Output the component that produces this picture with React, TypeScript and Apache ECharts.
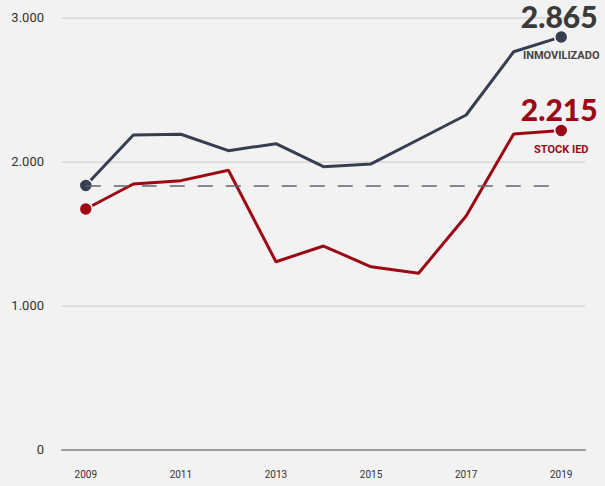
import React, { useEffect, useRef } from "react";
import * as echarts from "echarts";

const years = ["2009", "2010", "2011", "2012", "2013", "2014", "2015", "2016", "2017", "2018", "2019"];
const inmovilizado = [1833, 2184, 2189, 2075, 2124, 1964, 1983, 2153, 2323, 2762, 2865];
const stockIED = [1670, 1844, 1867, 1939, 1304, 1413, 1269, 1224, 1622, 2191, 2215];
const seriesNames = ["INMOVILIZADO", "STOCK IED"];
const yTicks = [0, 1000, 2000, 3000];

const NAVY = "#363f4f";
const RED = "#9b0a14";

const fmt = (v: number) => String(Math.round(v)).replace(/\B(?=(\d{3})+(?!\d))/g, ".");

function buildSeries(name: string, values: number[], color: string, valueColor: string, withRef: boolean) {
  const last = values.length - 1;
  const data = values.map((v, i) =>
    i === last
      ? {
          value: v,
          label: {
            show: true,
            position: "top",
            distance: 1,
            offset: [-2, 0],
            lineHeight: 26,
            formatter: () => fmt(v),
            fontFamily: "Lato",
            fontWeight: 900,
            fontSize: 30,
            color: valueColor,
          },
        }
      : v
  );
  const s: any = {
    type: "line",
    name,
    data,
    showAllSymbol: true,
    symbol: "circle",
    symbolSize: (_v: any, p: any) => (p.dataIndex === 0 || p.dataIndex === last ? 13 : 0),
    lineStyle: { color, width: 3 },
    itemStyle: { color, borderColor: "#f4f4f4", borderWidth: 1.5 },
    emphasis: { disabled: true },
    markPoint: {
      symbol: "circle",
      symbolSize: 13,
      itemStyle: { color: "rgba(0,0,0,0)" },
      label: {
        show: true,
        position: "bottom",
        distance: 7,
        formatter: name,
        fontFamily: "Roboto",
        fontWeight: 700,
        fontSize: 11,
        color: color === NAVY ? "#444444" : RED,
      },
      data: [{ coord: [years[last], values[last]] }],
    },
  };
  if (withRef) {
    s.markLine = {
      silent: true,
      symbol: "none",
      label: { show: false },
      lineStyle: { color: "#5d6470", width: 1.5, type: [15, 13] },
      data: [[{ coord: [years[0], values[0]] }, { coord: [years[last], values[0]] }]],
    };
  }
  return s;
}

export default function App() {
  const ref = useRef<HTMLDivElement>(null);
  useEffect(() => {
    document.body.style.margin = "0";
    const chart = echarts.init(ref.current!, undefined, { renderer: "svg" });
    chart.setOption({
      animation: false,
      backgroundColor: "#f2f2f2",
      grid: { left: 62, right: 20, top: 17.5, bottom: 36.5 },
      xAxis: {
        type: "category",
        data: years,
        boundaryGap: true,
        axisLine: { show: true, lineStyle: { color: "#9a9a9a", width: 2 } },
        axisTick: { show: false },
        axisLabel: { interval: 1, margin: 20, fontFamily: "Roboto", fontSize: 10, color: "#333" },
      },
      yAxis: {
        type: "value",
        min: yTicks[0],
        max: yTicks[yTicks.length - 1],
        interval: 1000,
        axisLine: { show: false },
        axisTick: { show: false },
        splitLine: { lineStyle: { color: "#d6d6d6", width: 1.5 } },
        axisLabel: { margin: 18, fontFamily: "Roboto", fontSize: 13, color: "#333", formatter: (v: number) => fmt(v) },
      },
      series: [
        buildSeries(seriesNames[0], inmovilizado, NAVY, "#3a3a3a", true),
        buildSeries(seriesNames[1], stockIED, RED, RED, false),
      ],
    });
    return () => chart.dispose();
  }, []);
  return <div ref={ref} style={{ width: 605, height: 486 }} />;
}
